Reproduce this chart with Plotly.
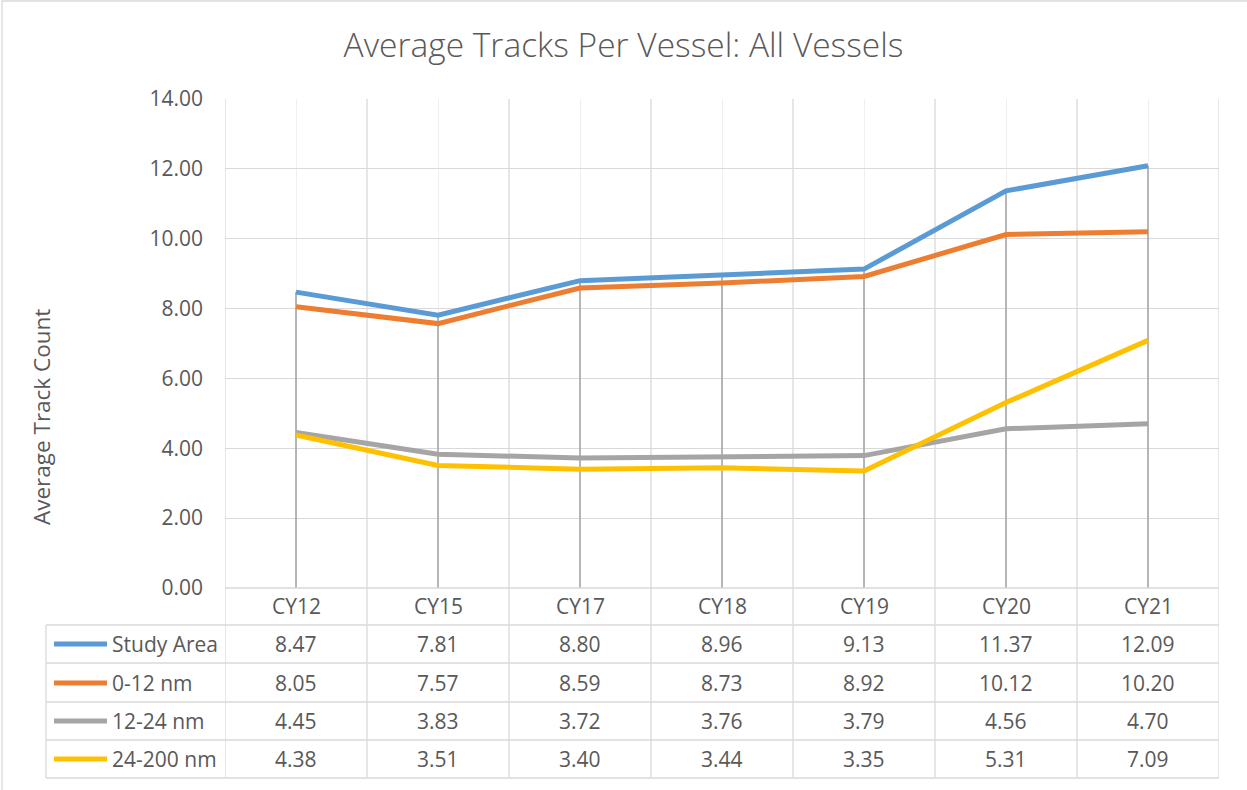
import plotly.graph_objects as go

categories = ["CY12", "CY15", "CY17", "CY18", "CY19", "CY20", "CY21"]
series_names = ["Study Area", "0-12 nm", "12-24 nm", "24-200 nm"]
study_area = [8.47, 7.81, 8.80, 8.96, 9.13, 11.37, 12.09]
nm_0_12 = [8.05, 7.57, 8.59, 8.73, 8.92, 10.12, 10.20]
nm_12_24 = [4.45, 3.83, 3.72, 3.76, 3.79, 4.56, 4.70]
nm_24_200 = [4.38, 3.51, 3.40, 3.44, 3.35, 5.31, 7.09]
series_values = [study_area, nm_0_12, nm_12_24, nm_24_200]
colors = ["#5b9bd5", "#ed7d31", "#a5a5a5", "#ffc000"]
y_ticks = [0, 2, 4, 6, 8, 10, 12, 14]

W, H = 1247, 790
L, R, T, B = 225, 1219, 99, 588
PW, PH = R - L, B - T
FONT = "Open Sans"
TXT = "#595959"
GRID = "#d9d9d9"
FS = 21


def py(y):
    return (B - y) / PH


def px(x):
    return (x - L) / PW


n = len(categories)
xs = list(range(n))
fig = go.Figure()

# drop lines from highest point to axis
dx, dy = [], []
for i in xs:
    top = max(s[i] for s in series_values)
    dx += [i, i, None]
    dy += [0, top, None]
fig.add_trace(go.Scatter(x=dx, y=dy, mode="lines",
                         line=dict(color="#a5a5a5", width=1.6),
                         hoverinfo="skip", showlegend=False))

for name, vals, col in zip(series_names, series_values, colors):
    fig.add_trace(go.Scatter(x=xs, y=vals, mode="lines", name=name,
                             line=dict(color=col, width=5),
                             showlegend=False))

shapes = []
ann = []

# vertical lines at category boundaries (plot + table)
for k in range(n + 1):
    shapes.append(dict(type="line", xref="x", yref="paper",
                       x0=k - 0.5, x1=k - 0.5, y0=py(778), y1=py(T),
                       line=dict(color=GRID, width=1.3), layer="below"))
# table left edge
shapes.append(dict(type="line", xref="paper", yref="paper",
                   x0=px(46), x1=px(46), y0=py(625), y1=py(778),
                   line=dict(color=GRID, width=1.3)))
# table horizontal lines
shapes.append(dict(type="line", xref="paper", yref="paper",
                   x0=0, x1=1, y0=py(B), y1=py(B),
                   line=dict(color=GRID, width=1.3)))
row_lines = [625, 663, 702, 740, 778]
for yl in row_lines:
    shapes.append(dict(type="line", xref="paper", yref="paper",
                       x0=px(46), x1=1, y0=py(yl), y1=py(yl),
                       line=dict(color=GRID, width=1.3)))

# category header labels
for i, c in enumerate(categories):
    ann.append(dict(x=i, y=py(606), xref="x", yref="paper", text=c,
                    xanchor="center", yanchor="middle",
                    showarrow=False, font=dict(family=FONT, size=FS, color=TXT)))

row_centers = [644, 683, 721, 759]
for r, (name, vals, col) in enumerate(zip(series_names, series_values, colors)):
    yc = py(row_centers[r])
    shapes.append(dict(type="line", xref="paper", yref="paper",
                       x0=px(54), x1=px(107), y0=yc, y1=yc,
                       line=dict(color=col, width=5)))
    ann.append(dict(x=px(110), y=yc, xref="paper", yref="paper", text=name,
                    xanchor="left", yanchor="middle", showarrow=False,
                    font=dict(family=FONT, size=FS, color=TXT)))
    for i, v in enumerate(vals):
        ann.append(dict(x=i, y=yc, xref="x", yref="paper", text=f"{v:.2f}",
                        xanchor="center", yanchor="middle",
                        showarrow=False, font=dict(family=FONT, size=FS, color=TXT)))

# y axis title
ann.append(dict(x=px(41), y=py(417), xref="paper", yref="paper",
                text="Average Track Count", textangle=-90, showarrow=False,
                xanchor="center", yanchor="middle",
                font=dict(family=FONT, size=22.5, color=TXT)))

# chart border
shapes.append(dict(type="rect", xref="paper", yref="paper",
                   x0=px(2), x1=px(1252), y0=py(1), y1=py(795),
                   line=dict(color=GRID, width=1.3)))

fig.update_layout(
    width=W, height=H,
    margin=dict(l=L, r=W - R, t=T, b=H - B, autoexpand=False),
    paper_bgcolor="white", plot_bgcolor="white",
    title=dict(text="Average Tracks Per Vessel: All Vessels", x=0.5, xref="container",
               xanchor="center", y=1 - 45 / H, yref="container", yanchor="middle",
               font=dict(family=FONT, size=33.5, color=TXT, weight=300)),
    xaxis=dict(range=[-0.5, n - 0.5], tickvals=xs, ticktext=[""] * n,
               showgrid=True, gridcolor="#efefef", gridwidth=1.3,
               zeroline=False, showline=False, ticks="", fixedrange=True),
    yaxis=dict(range=[0, 14], tickvals=y_ticks,
               ticktext=[f"{t:.2f}" for t in y_ticks],
               showgrid=True, gridcolor=GRID, gridwidth=1.3,
               zeroline=False, showline=False, ticks="",
               ticklabelstandoff=21,
               tickfont=dict(family=FONT, size=FS, color=TXT)),
    shapes=shapes, annotations=ann,
)

fig.write_html("out.html", config={"displayModeBar": False},
               post_script="document.body.style.margin='0';document.body.style.overflow='hidden';")
